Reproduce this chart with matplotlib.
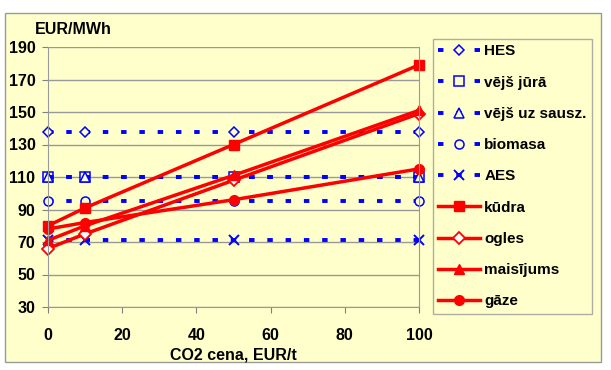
import matplotlib
matplotlib.use("Agg")
import matplotlib.pyplot as plt
from matplotlib.patches import Rectangle

plt.rcParams["font.family"] = ["Liberation Sans", "DejaVu Sans"]
plt.rcParams["font.weight"] = "bold"

co2 = [0, 10, 50, 100]

hes = [138, 138, 138, 138]
vejs_jura = [110, 110, 110, 110]
vejs_sausz = [110, 110, 110, 110]
biomasa = [95, 95, 95, 95]
aes = [71, 71, 71, 71]
kudra = [80, 91, 130, 179]
ogles = [66, 75, 108, 149]
maisijums = [71, 80, 111, 151]
gaze = [78, 82, 96, 115]

yticks = [30, 50, 70, 90, 110, 130, 150, 170, 190]
xticks = [0, 20, 40, 60, 80, 100]

bg = "#FFFFCC"
blue = "#0000FF"
red = "#FF0000"

fig = plt.figure(figsize=(6.11, 3.70), dpi=100)
fig.patch.set_facecolor("white")
fig.patches.append(Rectangle((5 / 611, 8 / 370), 596 / 611, 349 / 370,
                             transform=fig.transFigure, facecolor=bg,
                             edgecolor="#999999", lw=1, zorder=-5))

ax = fig.add_axes([48 / 611, 63 / 370, 371 / 611, 260 / 370])
ax.set_facecolor(bg)

dash = (0, (1.4, 3.3))
blue_kw = dict(color=blue, lw=2.8, ls=dash, markersize=6.5,
               markerfacecolor=bg, markeredgecolor=blue, markeredgewidth=1.1)
ax.plot(co2, hes, marker="D", label="HES", **{**blue_kw, "markersize": 5.5})
ax.plot(co2, vejs_jura, marker="s", label="vējš jūrā", **blue_kw)
ax.plot(co2, vejs_sausz, marker="^", label="vējš uz sausz.", **blue_kw)
ax.plot(co2, biomasa, marker="o", label="biomasa", **blue_kw)
ax.plot(co2, aes, marker="x", label="AES", **{**blue_kw, "markeredgewidth": 1.4})

red_kw = dict(color=red, lw=2.5, markersize=7)
ax.plot(co2, kudra, marker="s", label="kūdra", **red_kw)
ax.plot(co2, ogles, marker="D", markerfacecolor="white", markeredgecolor=red,
        markeredgewidth=1.3, label="ogles", **{**red_kw, "markersize": 6.5})
ax.plot(co2, maisijums, marker="^", label="maisījums", **red_kw)
ax.plot(co2, gaze, marker="o", label="gāze", **red_kw)

ax.set_xlim(0, 100)
ax.set_ylim(30, 190)
ax.set_xticks(xticks)
ax.set_yticks(yticks)
ax.tick_params(labelsize=11.5, color="#808080", length=4, direction="out")
ax.tick_params(axis="x", pad=11)
ax.tick_params(axis="y", pad=5)
ax.yaxis.grid(True, color="#999999", lw=1)
ax.set_axisbelow(True)
for s in ax.spines.values():
    s.set_color("#999999")
ax.spines["top"].set_visible(False)
for ln in ax.lines:
    ln.set_clip_on(False)

ax.set_xlabel("CO2 cena, EUR/t", fontsize=11.5, fontweight="bold", labelpad=3)
fig.text(35 / 611, 1 - 30 / 370, "EUR/MWh", fontsize=11.5, fontweight="bold",
         va="center", ha="left")

leg = fig.legend(loc="upper left", bbox_to_anchor=(433 / 611, 1 - 39 / 370),
                 fontsize=11, frameon=True, fancybox=False, handlelength=2.7,
                 labelspacing=1.13, borderpad=0.35, handletextpad=0.3,
                 borderaxespad=0)
leg.get_frame().set_facecolor(bg)
leg.get_frame().set_edgecolor("#999999")
leg.get_frame().set_linewidth(1)

fig.savefig("out.png", dpi=100, facecolor="white")
